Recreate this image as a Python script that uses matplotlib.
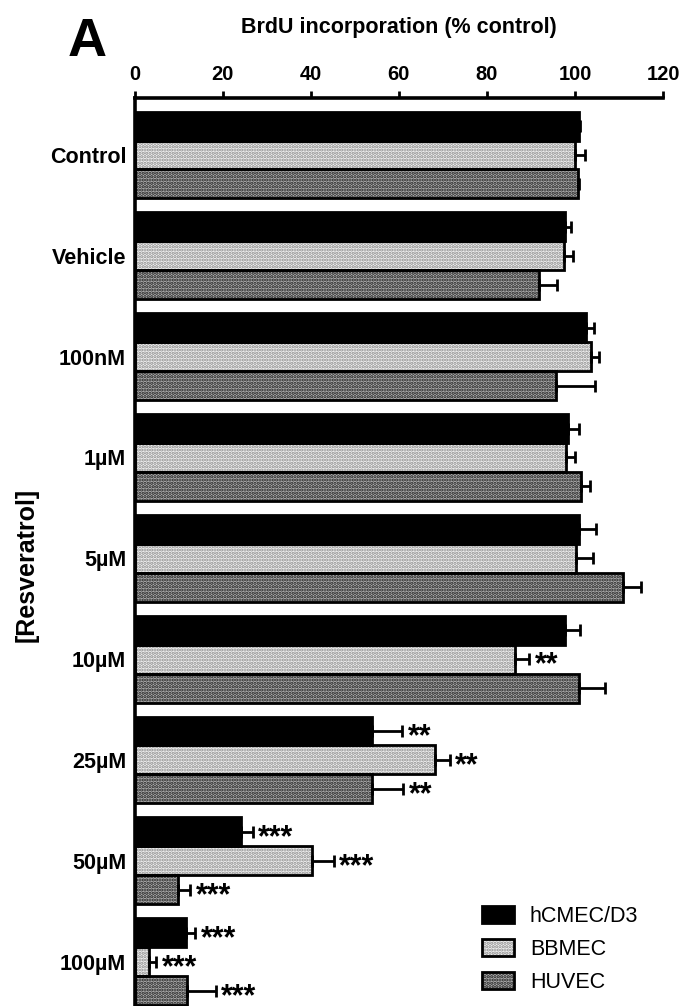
import numpy as np
import matplotlib
matplotlib.use("Agg")
import matplotlib.pyplot as plt
import matplotlib.patches as mpatches
from matplotlib.legend_handler import HandlerTuple

plt.rcParams['font.family'] = ['Liberation Sans', 'DejaVu Sans']
plt.rcParams['hatch.linewidth'] = 1.6

categories = ['Control', 'Vehicle', '100nM', '1µM', '5µM', '10µM', '25µM', '50µM', '100µM']
series = ['hCMEC/D3', 'BBMEC', 'HUVEC']
hcmec = [100.8, 97.6, 102.4, 98.4, 100.9, 97.6, 53.8, 24.1, 11.6]
hcmec_err = [0.3, 1.4, 1.9, 2.4, 3.8, 3.6, 6.9, 2.7, 2.2]
bbmec = [100.0, 97.4, 103.5, 98.0, 100.3, 86.3, 68.1, 40.2, 3.4]
bbmec_err = [2.2, 2.0, 1.9, 2.0, 3.8, 3.2, 3.4, 5.0, 1.5]
huvec = [100.6, 91.8, 95.6, 101.4, 110.8, 100.9, 54.0, 9.9, 12.0]
huvec_err = [0.3, 4.0, 9.0, 1.9, 4.2, 5.8, 7.0, 2.8, 6.4]
hcmec_sig = ['', '', '', '', '', '', '**', '***', '***']
bbmec_sig = ['', '', '', '', '', '**', '**', '***', '***']
huvec_sig = ['', '', '', '', '', '', '**', '***', '***']
xticks = [0, 20, 40, 60, 80, 100, 120]

values = [hcmec, bbmec, huvec]
errors = [hcmec_err, bbmec_err, huvec_err]
sigs = [hcmec_sig, bbmec_sig, huvec_sig]
faces = ['black', '#f2f2f2', '#b0b0b0']
hatchcols = ['black', '#8c8c8c', '#202020']
hatches = [None, '.....', '.....']

fig = plt.figure(figsize=(6.84, 10.06), dpi=100)
ax = fig.add_axes([134.5 / 684, 0.0, (663.3 - 134.5) / 684, (1006 - 98) / 1006])

y = np.arange(len(categories))
bh = 0.287
offsets = [-bh, 0.0, bh]
handles = []
for k in range(3):
    yy = y + offsets[k]
    ax.barh(yy, values[k], height=bh, color=faces[k], edgecolor=hatchcols[k],
            hatch=hatches[k], linewidth=0, zorder=2)
    ax.barh(yy, values[k], height=bh, fill=False, edgecolor='black',
            linewidth=2.0, zorder=3)
    ax.errorbar(values[k], yy, xerr=[np.zeros(len(yy)), errors[k]], fmt='none',
                ecolor='black', elinewidth=2.0, capsize=4.5, capthick=2.0, zorder=4)
    for v, e, s, yi in zip(values[k], errors[k], sigs[k], yy):
        if s:
            ax.annotate(s, xy=(v + e, yi), xytext=(4, -4.5), textcoords='offset points',
                        ha='left', va='center', fontsize=22, fontweight='bold')
    hp = mpatches.Patch(facecolor=faces[k], edgecolor=hatchcols[k], hatch=hatches[k], linewidth=0)
    op = mpatches.Patch(fill=False, edgecolor='black', linewidth=2.0)
    handles.append((hp, op))

ax.set_xlim(0, 120)
ax.set_ylim(8.44, -0.565)
ax.set_xticks(xticks)
ax.set_yticks(y)
ax.set_yticklabels(categories, fontsize=15.5, fontweight='bold')
ax.xaxis.tick_top()
ax.tick_params(axis='x', which='both', direction='out', length=5, width=2,
               pad=5, labelsize=14.5)
ax.tick_params(axis='y', length=0, pad=6)
for lab in ax.get_xticklabels():
    lab.set_fontweight('bold')
for side in ['right', 'bottom']:
    ax.spines[side].set_visible(False)
for side in ['top', 'left']:
    ax.spines[side].set_linewidth(2.6)

ax.xaxis.set_label_position('top')
ax.set_xlabel('BrdU incorporation (% control)', fontsize=15.5, fontweight='bold', labelpad=23)

fig.text(68 / 684, 1 - 42 / 1006, 'A', fontsize=39, fontweight='bold', ha='left', va='center')
fig.text(27 / 684, 1 - 565 / 1006, '[Resveratrol]', fontsize=18, fontweight='bold',
         rotation=90, ha='center', va='center')

fig.legend(handles, series, handler_map={tuple: HandlerTuple(ndivide=1)},
           loc='upper left', bbox_to_anchor=(482 / 684, 1 - 905.5 / 1006),
           frameon=False, fontsize=15.5, borderpad=0, borderaxespad=0,
           handlelength=1.5, handleheight=0.88, handletextpad=0.72, labelspacing=0.55)

fig.savefig('out.png', dpi=100)
